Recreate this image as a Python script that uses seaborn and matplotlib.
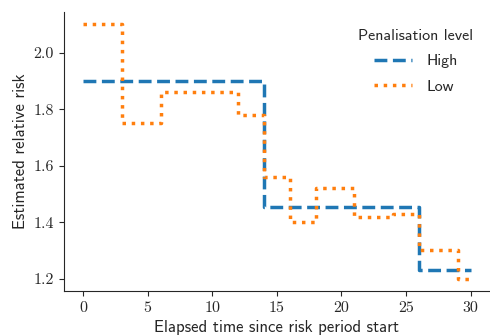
import pandas as pd
import matplotlib.pyplot as plt
import seaborn as sns
from matplotlib.ticker import FuncFormatter

# step starts (last point closes the final step)
high_time = [0, 14, 26, 30]
high_risk = [1.90, 1.455, 1.23, 1.23]

low_time = [0, 3, 6, 12, 14, 16, 18, 21, 24, 26, 29, 30]
low_risk = [2.10, 1.75, 1.86, 1.78, 1.56, 1.40, 1.52, 1.42, 1.43, 1.30, 1.20, 1.20]

levels = ["High", "Low"]

df_high = pd.DataFrame({"time": high_time, "risk": high_risk, "level": levels[0]})
df_low = pd.DataFrame({"time": low_time, "risk": low_risk, "level": levels[1]})
data = pd.concat([df_high, df_low], ignore_index=True)

sns.set_style("ticks")

fig, ax = plt.subplots(figsize=(4.9, 3.35), dpi=100)
sns.lineplot(
    data=data,
    x="time",
    y="risk",
    hue="level",
    style="level",
    dashes={"High": (3.7, 1.6), "Low": (1, 1.65)},
    palette=["#1f77b4", "#ff7f0e"],
    drawstyle="steps-post",
    linewidth=2.5,
    ax=ax,
)

ax.set_xticks([0, 5, 10, 15, 20, 25, 30])
ax.set_yticks([1.2, 1.4, 1.6, 1.8, 2.0])
ax.xaxis.set_major_formatter(FuncFormatter(lambda v, p: f"{v:g}"))
ax.yaxis.set_major_formatter(FuncFormatter(lambda v, p: f"{v:.1f}"))
for lbl in ax.get_xticklabels() + ax.get_yticklabels():
    lbl.set_fontfamily("cmr10")
    lbl.set_fontsize(11.5)

ax.set_xlabel("Elapsed time since risk period start", fontfamily="cmss10", fontsize=12)
ax.set_ylabel("Estimated relative risk", fontfamily="cmss10", fontsize=12)

leg = ax.legend(title="Penalisation level", frameon=False, loc="upper right",
                bbox_to_anchor=(0.995, 0.99), labelspacing=0.7, handlelength=2.4,
                handletextpad=0.9,
                prop={"family": "cmss10", "size": 11.5})
leg.get_title().set_fontfamily("cmss10")
leg.get_title().set_fontsize(11.5)

sns.despine()
fig.subplots_adjust(left=0.13, right=1.0, top=0.965, bottom=0.13)
fig.savefig("out.png", dpi=100)
